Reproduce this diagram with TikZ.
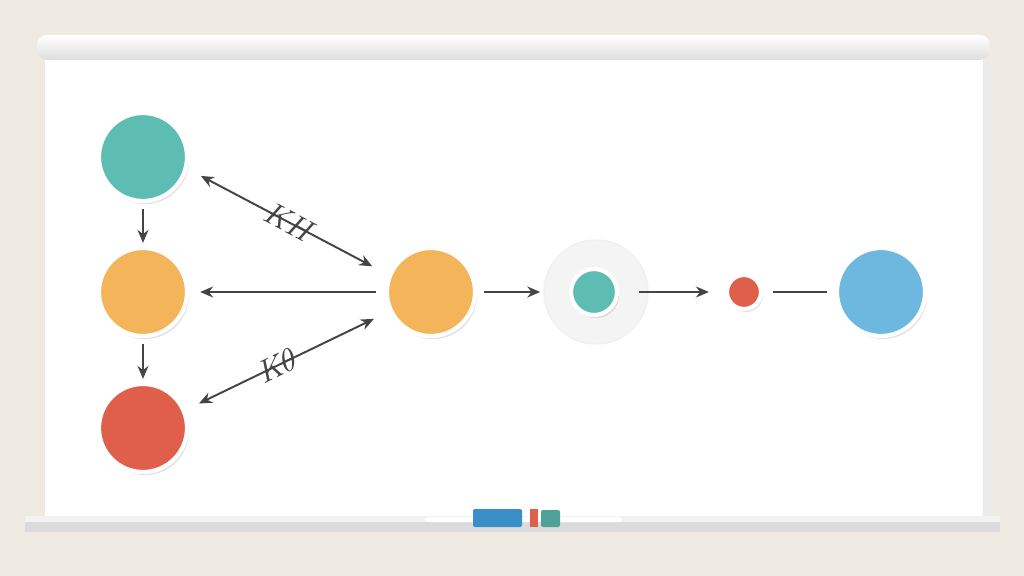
\documentclass[tikz,border=0pt]{standalone}
\usetikzlibrary{arrows.meta,shadows}

\definecolor{wall}{HTML}{EEEAE2}
\definecolor{ink}{HTML}{444444}
\definecolor{tealc}{HTML}{5EBDB3}
\definecolor{orangec}{HTML}{F4B45A}
\definecolor{redc}{HTML}{E05F4B}
\definecolor{bluec}{HTML}{6DB8DE}
\definecolor{haloc}{HTML}{F4F4F4}
\definecolor{penblue}{HTML}{3A8FC8}

\begin{document}
\begin{tikzpicture}[x=0.01cm, y=-0.01cm,
    blob/.style={circle, fill=#1, draw=white, line width=1.2pt, inner sep=0pt,
      minimum size=0.88cm,
      drop shadow={shadow xshift=0.02cm, shadow yshift=-0.03cm, opacity=0.12, fill=black}},
    link/.style={draw=ink, line width=0.55pt, -{Stealth[length=0.13cm,width=0.11cm]}},
    scrawl/.style={font=\small\itshape, text=ink, inner sep=0pt}]

    % wall and whiteboard
    \fill[wall] (0, 0) rectangle (1024, 576);
    \fill[black!8] (982, 58) rectangle (991, 516);
    \fill[white] (45, 55) rectangle (983, 516);
    \shade[top color=white, bottom color=black!13, rounded corners=0.1cm]
        (37, 35) rectangle (990, 60);
    \fill[black!14] (25, 516) rectangle (1000, 532);
    \fill[black!5] (25, 516) rectangle (1000, 522);
    \fill[white, rounded corners=0.03cm] (425, 517) rectangle (622, 522);

    % markers on the tray
    \fill[penblue, rounded corners=0.02cm] (473, 509) rectangle (522, 527);
    \fill[redc] (530, 509) rectangle (538, 527);
    \fill[tealc!85!black, rounded corners=0.02cm] (541, 510) rectangle (560, 527);

    % circles
    \node[blob=tealc] (top) at (143, 157) { };
    \node[blob=orangec] (mid) at (143, 292) { };
    \node[blob=redc] (low) at (143, 428) { };
    \node[blob=orangec] (hub) at (431, 292) { };
    \node[circle, fill=haloc, draw=black!6, minimum size=1.04cm, inner sep=0pt] (halo) at (596, 292) { };
    \node[blob=tealc, minimum size=0.46cm] (core) at (594, 292) { };
    \node[blob=redc, minimum size=0.34cm] (dot) at (744, 292) { };
    \node[blob=bluec] (goal) at (881, 292) { };

    % connectors
    \draw[link, shorten <=0.06cm, shorten >=0.03cm] (top) -- (mid);
    \draw[link, shorten <=0.06cm, shorten >=0.03cm] (mid) -- (low);
    \draw[link, {Stealth[length=0.13cm,width=0.11cm]}-{Stealth[length=0.13cm,width=0.11cm]},
        shorten <=0.15cm, shorten >=0.18cm] (top.-15) -- (hub.158)
        node[midway, sloped, scrawl] {KH};
    \draw[link, shorten <=0.09cm, shorten >=0.11cm] (hub) -- (mid);
    \draw[link, {Stealth[length=0.13cm,width=0.11cm]}-{Stealth[length=0.13cm,width=0.11cm]},
        shorten <=0.15cm, shorten >=0.17cm] (low.23) -- (hub.-155)
        node[pos=0.45, sloped, scrawl] {K$\theta$};
    \draw[link, shorten <=0.07cm, shorten >=0.03cm] (hub) -- (halo);
    \draw[link, shorten <=0.2cm, shorten >=0.16cm] (core) -- (dot);
    \draw[draw=ink, line width=0.55pt, shorten <=0.1cm, shorten >=0.08cm] (dot) -- (goal);
\end{tikzpicture}
\end{document}
